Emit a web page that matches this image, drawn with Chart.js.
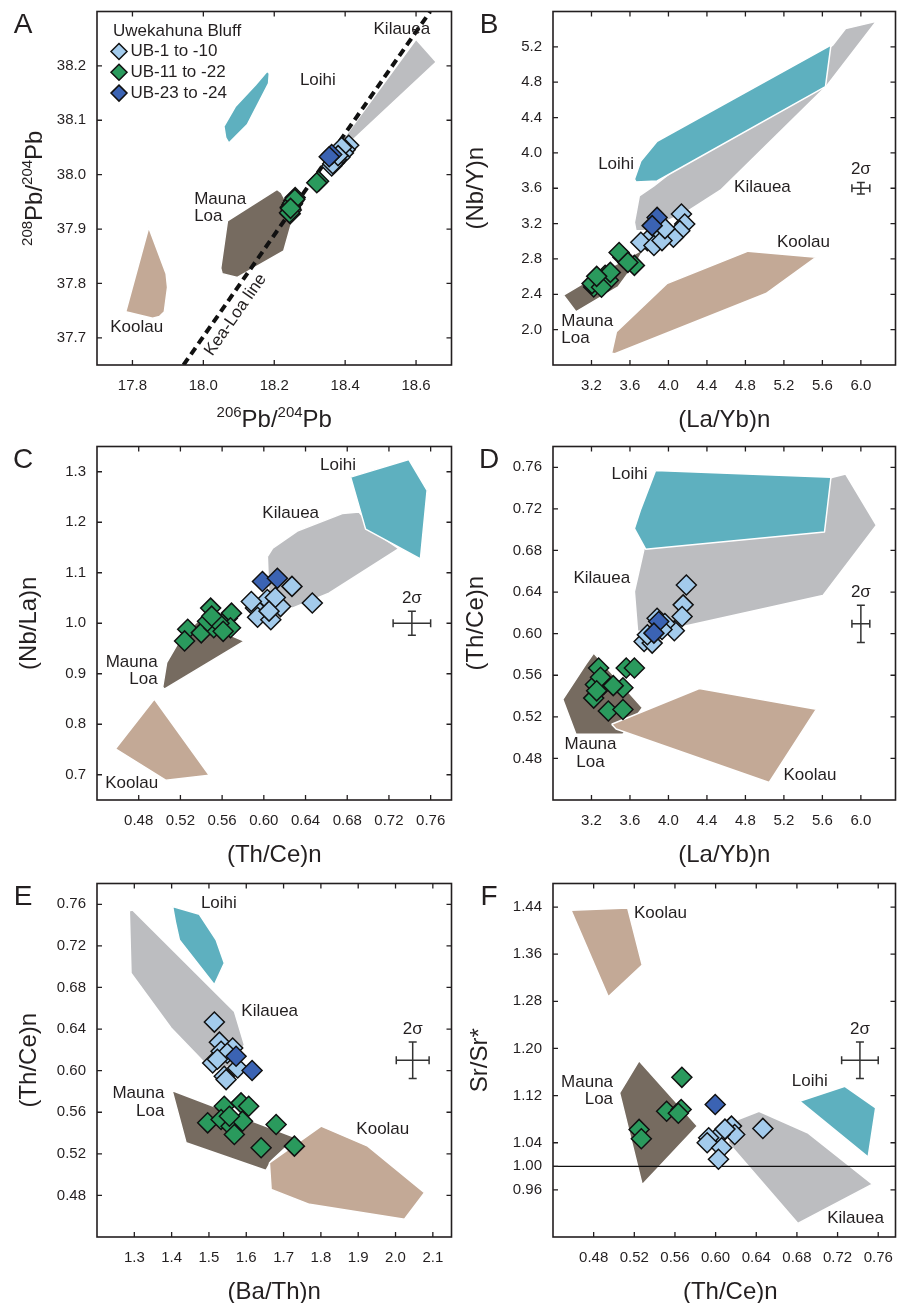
<!DOCTYPE html>
<html>
<head>
<meta charset="utf-8">
<script src="https://cdn.jsdelivr.net/npm/chart.js@4.4.1/dist/chart.umd.min.js"></script>
<style>
  body { margin: 0; background: #fff; width: 907px; height: 1303px; position: relative; overflow: hidden; }
  canvas { position: absolute; }
</style>
</head>
<body>
<canvas id="cA" width="463" height="440" style="left:0;top:0"></canvas>
<canvas id="cB" width="451" height="440" style="left:456px;top:0"></canvas>
<canvas id="cC" width="463" height="440" style="left:0;top:435px"></canvas>
<canvas id="cD" width="451" height="440" style="left:456px;top:435px"></canvas>
<canvas id="cE" width="463" height="431" style="left:0;top:872px"></canvas>
<canvas id="cF" width="451" height="431" style="left:456px;top:872px"></canvas>
<script>
"use strict";

// ---- data: [x, y] pairs ----

// A: 206Pb/204Pb vs 208Pb/204Pb
var A_XTICKS = [17.8, 18.0, 18.2, 18.4, 18.6];
var A_YTICKS = [37.7, 37.8, 37.9, 38.0, 38.1, 38.2];
var A_LB = [[18.41, 38.054], [18.40, 38.046], [18.395, 38.040], [18.385, 38.032], [18.37, 38.022],
            [18.362, 38.016], [18.375, 38.028], [18.39, 38.05], [18.365, 38.02], [18.38, 38.035]];
var A_GR = [[18.325, 37.988], [18.259, 37.958], [18.245, 37.940], [18.245, 37.928], [18.25, 37.945],
            [18.255, 37.952], [18.248, 37.935], [18.243, 37.93], [18.252, 37.948], [18.258, 37.955],
            [18.246, 37.938], [18.32, 37.985]];
var A_DB = [[18.362, 38.037], [18.355, 38.033]];
var A_KIL = [[18.600, 38.249], [18.657, 38.207], [18.414, 38.059], [18.390, 38.062]];
var A_LOI = [[18.180, 38.190], [18.186, 38.186], [18.184, 38.168], [18.124, 38.092], [18.072, 38.058],
             [18.063, 38.068], [18.058, 38.089], [18.091, 38.126], [18.147, 38.165]];
var A_ML = [[18.068, 37.915], [18.208, 37.973], [18.220, 37.967], [18.255, 37.925], [18.227, 37.860],
            [18.096, 37.811], [18.053, 37.818], [18.049, 37.828]];
var A_KOO = [[17.846, 37.903], [17.895, 37.818], [17.899, 37.793], [17.890, 37.748], [17.876, 37.739],
             [17.857, 37.736], [17.781, 37.748]];
var A_KEALOA = [[17.944, 37.65], [18.64, 38.30]];

// B: (La/Yb)n vs (Nb/Y)n
var B_XTICKS = [3.2, 3.6, 4.0, 4.4, 4.8, 5.2, 5.6, 6.0];
var B_YTICKS = [2.0, 2.4, 2.8, 3.2, 3.6, 4.0, 4.4, 4.8, 5.2];
var B_LB = [[4.135, 3.308], [4.169, 3.196], [4.118, 3.120], [4.051, 3.045], [3.899, 3.083],
            [3.781, 3.008], [3.713, 2.989], [3.849, 2.952], [3.933, 3.008], [3.964, 3.143]];
var B_GR = [[3.527, 2.820], [3.487, 2.873], [3.646, 2.727], [3.578, 2.761], [3.342, 2.615],
            [3.274, 2.558], [3.223, 2.483], [3.206, 2.521], [3.375, 2.558], [3.304, 2.480],
            [3.396, 2.648], [3.254, 2.603]];
var B_DB = [[3.882, 3.270], [3.831, 3.177]];
var B_KIL = [[3.697, 3.514], [3.849, 3.626], [5.706, 5.219], [5.841, 5.406], [6.162, 5.489],
             [5.638, 4.750], [4.541, 3.578], [4.153, 3.308], [3.747, 3.120], [3.662, 3.120], [3.646, 3.214]];
var B_LOI = [[3.882, 4.132], [5.689, 5.219], [5.632, 4.750], [3.882, 3.682], [3.662, 3.671],
             [3.646, 3.702], [3.713, 3.907]];
var B_ML = [[2.909, 2.390], [3.342, 2.671], [3.747, 2.915], [3.679, 2.783], [3.477, 2.483], [3.038, 2.202]];
var B_KOO = [[3.459, 1.977], [3.983, 2.521], [4.827, 2.888], [5.537, 2.820], [5.014, 2.409],
             [3.443, 1.727], [3.409, 1.734]];
var B_ERR = [6.0, 3.6, 0.093, 0.064];

// C: (Th/Ce)n vs (Nb/La)n
var C_XTICKS = [0.48, 0.52, 0.56, 0.60, 0.64, 0.68, 0.72, 0.76];
var C_YTICKS = [0.7, 0.8, 0.9, 1.0, 1.1, 1.2, 1.3];
var C_LB = [[0.627, 1.073], [0.6465, 1.040], [0.6034, 1.047], [0.616, 1.033], [0.611, 1.051],
            [0.592, 1.030], [0.594, 1.012], [0.6067, 1.007], [0.588, 1.043], [0.605, 1.024]];
var C_GR = [[0.549, 1.030], [0.565, 1.010], [0.569, 1.020], [0.527, 0.988], [0.524, 0.965],
            [0.540, 0.981], [0.552, 0.991], [0.568, 0.991], [0.546, 1.004], [0.557, 1.000],
            [0.550, 1.014], [0.561, 0.984]];
var C_DB = [[0.5987, 1.0827], [0.613, 1.089]];
var C_KIL = [[0.6034, 1.1319], [0.6082, 1.148], [0.6321, 1.1825], [0.6752, 1.2171], [0.6912, 1.2205],
             [0.7103, 1.1746], [0.7295, 1.148], [0.6625, 1.0596], [0.6274, 1.030], [0.605, 1.043]];
var C_LOI = [[0.6833, 1.2894], [0.7391, 1.3242], [0.7566, 1.2632], [0.7502, 1.1274], [0.6976, 1.1864]];
var C_ML = [[0.5365, 1.0039], [0.5812, 0.9646], [0.5046, 0.8695], [0.503, 0.874], [0.5068, 0.9219], [0.5206, 0.9711]];
var C_KOO = [[0.495, 0.850], [0.5477, 0.6988], [0.5062, 0.689], [0.4577, 0.7514]];
var C_ERR = [0.742, 1.0, 0.018, 0.0236];

// D: (La/Yb)n vs (Th/Ce)n
var D_XTICKS = B_XTICKS;
var D_YTICKS = [0.48, 0.52, 0.56, 0.60, 0.64, 0.68, 0.72, 0.76];
var D_LB = [[4.186, 0.6468], [4.153, 0.6277], [4.142, 0.6165], [4.061, 0.6028], [3.882, 0.6148],
            [3.747, 0.5925], [3.831, 0.5909], [3.781, 0.5989], [3.963, 0.6098], [3.933, 0.604]];
var D_GR = [[3.274, 0.567], [3.561, 0.567], [3.646, 0.567], [3.241, 0.551], [3.325, 0.551],
            [3.527, 0.548], [3.223, 0.538], [3.375, 0.5256], [3.527, 0.527], [3.294, 0.558],
            [3.254, 0.545], [3.426, 0.550]];
var D_DB = [[3.899, 0.6117], [3.849, 0.6005]];
var D_KIL = [[3.747, 0.6818], [5.706, 0.7504], [5.841, 0.7536], [6.162, 0.7042], [5.605, 0.6366],
             [4.153, 0.6069], [3.679, 0.6021], [3.646, 0.6404]];
var D_LOI = [[3.865, 0.7568], [5.689, 0.7504], [5.622, 0.6978], [3.763, 0.6812], [3.646, 0.701], [3.713, 0.720]];
var D_ML = [[3.223, 0.5813], [3.730, 0.5287], [3.527, 0.5032], [3.038, 0.5032], [2.902, 0.5367], [3.139, 0.5702]];
var D_KOO = [[3.409, 0.5128], [4.321, 0.5473], [5.537, 0.5272], [5.047, 0.4569], [3.456, 0.5083]];
var D_ERR = [6.0, 0.6095, 0.093, 0.0179];

// E: (Ba/Th)n vs (Th/Ce)n
var E_XTICKS = [1.3, 1.4, 1.5, 1.6, 1.7, 1.8, 1.9, 2.0, 2.1];
var E_YTICKS = D_YTICKS;
var E_LB = [[1.5145, 0.6467], [1.528, 0.6274], [1.5325, 0.6186], [1.510, 0.6074], [1.5636, 0.6218],
            [1.577, 0.6026], [1.541, 0.5946], [1.546, 0.5914], [1.549, 0.6167], [1.5226, 0.6109]];
var E_GR = [[1.541, 0.5658], [1.586, 0.5690], [1.6065, 0.5658], [1.4966, 0.5498], [1.5325, 0.553],
            [1.5593, 0.5466], [1.590, 0.5514], [1.568, 0.5386], [1.680, 0.5482], [1.6398, 0.5258],
            [1.729, 0.5274], [1.5548, 0.5562]];
var E_DB = [[1.5727, 0.6138], [1.6156, 0.6001]];
var E_KIL = [[1.2866, 0.7537], [1.2954, 0.7546], [1.5682, 0.657], [1.5949, 0.625], [1.5727, 0.6058],
             [1.51, 0.5994], [1.3984, 0.641], [1.2911, 0.6938]];
var E_LOI = [[1.4027, 0.7578], [1.4743, 0.7504], [1.5191, 0.7258], [1.5413, 0.7034], [1.5145, 0.6826],
             [1.4207, 0.7258], [1.4099, 0.7434]];
var E_ML = [[1.4011, 0.5809], [1.7336, 0.5354], [1.6666, 0.513], [1.653, 0.504], [1.4386, 0.5306]];
var E_KOO = [[1.662, 0.5114], [1.8007, 0.5466], [1.9256, 0.5274], [2.0777, 0.4826], [2.024, 0.457],
             [1.7693, 0.4714], [1.6666, 0.4858]];
var E_ERR = [2.046, 0.61, 0.044, 0.0176];

// F: (Th/Ce)n vs Sr/Sr*
var F_XTICKS = C_XTICKS;
var F_YTICKS = [0.96, 1.00, 1.04, 1.12, 1.20, 1.28, 1.36, 1.44];
var F_LB = [[0.6465, 1.0643], [0.6156, 1.0682], [0.6188, 1.054], [0.6044, 1.054], [0.5932, 1.0484],
            [0.5917, 1.040], [0.606, 1.0315], [0.6028, 1.0119], [0.6092, 1.0631]];
var F_GR = [[0.5668, 1.151], [0.5518, 1.0935], [0.5661, 1.0964], [0.5633, 1.090], [0.5247, 1.0626], [0.5269, 1.0467]];
var F_DB = [[0.5996, 1.1049]];
var F_KIL = [[0.6219, 1.0795], [0.6427, 1.0935], [0.6905, 1.0569], [0.7544, 0.9697], [0.681, 0.9031], [0.6123, 1.04]];
var F_LOI = [[0.6826, 1.1105], [0.7272, 1.1358], [0.7575, 1.0991], [0.7501, 1.0158]];
var F_ML = [[0.5247, 1.1792], [0.5821, 1.0682], [0.5278, 0.9685], [0.5055, 1.1245]];
var F_KOO = [[0.4577, 1.4344], [0.5135, 1.4383], [0.5278, 1.3415], [0.4944, 1.2879]];
var F_ERR = [0.742, 1.18, 0.018, 0.031];
var F_REF = [[0.40, 1.0], [0.80, 1.0]];

var SERIES = ['UB-1 to -10', 'UB-11 to -22', 'UB-23 to -24'];

// ---- styles ----
var FONT = 'Arial, "Liberation Sans", Helvetica, sans-serif';
var INK = '#231f20';
var COL = {
    lb: '#a3cbec', gr: '#2a9a5d', db: '#3b63b3',
    kil: '#bcbdc0', loi: '#5eb0bf', ml: '#766b60', koo: '#c3a996'
};

Chart.defaults.font.family = FONT;
Chart.defaults.color = INK;

function pts(a) {
    return a.map(function (p) { return { x: p[0], y: p[1] }; });
}

function polyDs(a, color) {
    return {
        type: 'line', data: pts(a.concat([a[0]])), backgroundColor: color,
        borderColor: '#ffffff', borderWidth: 1.5, borderJoinStyle: 'round',
        pointRadius: 0, pointHoverRadius: 0, fill: 'shape', tension: 0
    };
}

function markDs(a, color) {
    return {
        type: 'scatter', data: pts(a), pointStyle: 'rectRot', pointRadius: 10, pointHoverRadius: 10,
        backgroundColor: color, borderColor: '#111111', borderWidth: 1.5
    };
}

function lineDs(a, width, dash) {
    return {
        type: 'line', data: pts(a), borderColor: '#111111', borderWidth: width, borderDash: dash || [],
        pointRadius: 0, pointHoverRadius: 0, fill: false, tension: 0
    };
}

// text with superscript runs, centred on (x, y)
function drawRuns(ctx, runs, x, y, rot, size) {
    var sup = Math.round(size * 0.64);
    var fontOf = function (s) { return (s ? sup : size) + 'px ' + FONT; };
    var w = 0;
    runs.forEach(function (r) { ctx.font = fontOf(r[1]); w += ctx.measureText(r[0]).width; });
    ctx.save();
    ctx.translate(x, y);
    ctx.rotate(rot);
    ctx.textAlign = 'left';
    ctx.textBaseline = 'alphabetic';
    ctx.fillStyle = INK;
    var cx = -w / 2, base = size * 0.36;
    runs.forEach(function (r) {
        ctx.font = fontOf(r[1]);
        ctx.fillText(r[0], cx, r[1] ? base - size * 0.42 : base);
        cx += ctx.measureText(r[0]).width;
    });
    ctx.restore();
}

function diamond(ctx, x, y, r, color) {
    ctx.beginPath();
    ctx.moveTo(x, y - r); ctx.lineTo(x + r, y); ctx.lineTo(x, y + r); ctx.lineTo(x - r, y);
    ctx.closePath();
    ctx.fillStyle = color; ctx.fill();
    ctx.lineWidth = 1.5; ctx.strokeStyle = '#111111'; ctx.stroke();
}

function makeDecor(p) {
    return {
        id: 'decor' + p.letter,
        afterDatasetsDraw: function (chart) {
            var ctx = chart.ctx, a = chart.chartArea, sx = chart.scales.x, sy = chart.scales.y;
            ctx.save();

            // region labels
            ctx.fillStyle = INK;
            ctx.font = '17px ' + FONT;
            ctx.textBaseline = 'middle';
            p.labels.forEach(function (L) {
                var px = sx.getPixelForValue(L[1]), py = sy.getPixelForValue(L[2]);
                ctx.textAlign = L[3] || 'center';
                if (L[4]) {
                    ctx.save(); ctx.translate(px, py); ctx.rotate(L[4]);
                    ctx.fillText(L[0], 0, 0); ctx.restore();
                } else {
                    ctx.fillText(L[0], px, py);
                }
            });

            // 2 sigma cross
            if (p.err) {
                var e = p.err, c = 4;
                var cx = sx.getPixelForValue(e[0]), cy = sy.getPixelForValue(e[1]);
                var x0 = sx.getPixelForValue(e[0] - e[2]), x1 = sx.getPixelForValue(e[0] + e[2]);
                var y0 = sy.getPixelForValue(e[1] - e[3]), y1 = sy.getPixelForValue(e[1] + e[3]);
                ctx.strokeStyle = '#333333'; ctx.lineWidth = 1.5;
                ctx.beginPath();
                ctx.moveTo(x0, cy); ctx.lineTo(x1, cy);
                ctx.moveTo(cx, y0); ctx.lineTo(cx, y1);
                ctx.moveTo(x0, cy - c); ctx.lineTo(x0, cy + c);
                ctx.moveTo(x1, cy - c); ctx.lineTo(x1, cy + c);
                ctx.moveTo(cx - c, y0); ctx.lineTo(cx + c, y0);
                ctx.moveTo(cx - c, y1); ctx.lineTo(cx + c, y1);
                ctx.stroke();
                ctx.textAlign = 'center';
                ctx.fillText('2\u03c3', cx, y1 - 13);
            }

            // legend (panel A)
            if (p.legend) {
                ctx.textAlign = 'left';
                ctx.fillStyle = INK;
                ctx.fillText('Uwekahuna Bluff', a.left + 16, a.top + 20);
                [COL.lb, COL.gr, COL.db].forEach(function (col, i) {
                    var y = a.top + 40 + i * 20.8;
                    diamond(ctx, a.left + 22, y, 8, col);
                    ctx.fillStyle = INK;
                    ctx.fillText(SERIES[i], a.left + 33.5, y);
                });
            }

            // frame and inward ticks on all four sides
            ctx.strokeStyle = INK;
            ctx.lineWidth = 1.6;
            ctx.strokeRect(a.left, a.top, a.right - a.left, a.bottom - a.top);
            ctx.lineWidth = 1.3;
            ctx.beginPath();
            p.xTicks.forEach(function (v) {
                var x = sx.getPixelForValue(v);
                ctx.moveTo(x, a.bottom); ctx.lineTo(x, a.bottom - 5);
                ctx.moveTo(x, a.top); ctx.lineTo(x, a.top + 5);
            });
            p.yTicks.forEach(function (v) {
                var y = sy.getPixelForValue(v);
                ctx.moveTo(a.left, y); ctx.lineTo(a.left + 5, y);
                ctx.moveTo(a.right, y); ctx.lineTo(a.right - 5, y);
            });
            ctx.stroke();

            // axis titles
            drawRuns(ctx, p.xTitle, (a.left + a.right) / 2 + (p.xTitleShift || 0), a.bottom + 53, 0, 24);
            drawRuns(ctx, p.yTitle, p.yTitleX, (a.top + a.bottom) / 2, -Math.PI / 2, 24);

            // panel letter
            ctx.fillStyle = INK;
            ctx.font = '28px ' + FONT;
            ctx.textAlign = 'center';
            ctx.textBaseline = 'middle';
            ctx.fillText(p.letter, p.letterX, 25);
            ctx.restore();
        }
    };
}

function makePanel(p) {
    var canvas = document.getElementById(p.id);
    var xH = canvas.height - 10 - 355;
    var datasets = [
        markDs(p.db, COL.db),
        markDs(p.lb, COL.lb),
        markDs(p.gr, COL.gr)
    ];
    (p.lines || []).forEach(function (l) { datasets.push(l); });
    datasets.push(polyDs(p.loi, COL.loi));
    datasets.push(polyDs(p.koo, COL.koo));
    datasets.push(polyDs(p.kil, COL.kil));
    datasets.push(polyDs(p.ml, COL.ml));

    new Chart(canvas, {
        type: 'scatter',
        data: { datasets: datasets },
        options: {
            responsive: false,
            animation: false,
            events: [],
            layout: { padding: { top: 10, right: p.padRight, left: 0, bottom: 0 } },
            plugins: { legend: { display: false }, tooltip: { enabled: false } },
            scales: {
                x: {
                    type: 'linear', min: p.xMin, max: p.xMax,
                    grid: { display: false, drawTicks: false },
                    border: { display: false },
                    afterBuildTicks: function (s) { s.ticks = p.xTicks.map(function (v) { return { value: v }; }); },
                    afterFit: function (s) { s.height = xH; s.paddingLeft = 0; s.paddingRight = 0; },
                    ticks: {
                        autoSkip: false, maxRotation: 0, padding: 12, color: INK, font: { size: 15 },
                        callback: function (v) { return Number(v).toFixed(p.xDec); }
                    }
                },
                y: {
                    type: 'linear', min: p.yMin, max: p.yMax,
                    grid: { display: false, drawTicks: false },
                    border: { display: false },
                    afterBuildTicks: function (s) { s.ticks = p.yTicks.map(function (v) { return { value: v }; }); },
                    afterFit: function (s) { s.width = 97; s.paddingTop = 0; s.paddingBottom = 0; },
                    ticks: {
                        autoSkip: false, padding: 11, color: INK, font: { size: 15 },
                        callback: function (v) { return Number(v).toFixed(p.yDec); }
                    }
                }
            }
        },
        plugins: [makeDecor(p)]
    });
}

var keaLoaAngle = -55.1 * Math.PI / 180;

var PANELS = [
    {
        id: 'cA', letter: 'A', letterX: 23, padRight: 10, yTitleX: 33,
        xMin: 17.7, xMax: 18.7, yMin: 37.65, yMax: 38.30, xTicks: A_XTICKS, yTicks: A_YTICKS, xDec: 1, yDec: 1,
        lb: A_LB, gr: A_GR, db: A_DB, kil: A_KIL, loi: A_LOI, ml: A_ML, koo: A_KOO,
        lines: [lineDs(A_KEALOA, 4, [8, 5])],
        legend: true,
        xTitle: [['206', 1], ['Pb/', 0], ['204', 1], ['Pb', 0]],
        yTitle: [['208', 1], ['Pb/', 0], ['204', 1], ['Pb', 0]],
        labels: [['Kilauea', 18.56, 38.268], ['Loihi', 18.323, 38.173], ['Mauna', 17.974, 37.955, 'left'],
                 ['Loa', 17.974, 37.923, 'left'], ['Koolau', 17.812, 37.719],
                 ['Kea-Loa line', 18.091, 37.742, 'center', keaLoaAngle]]
    },
    {
        id: 'cB', letter: 'B', letterX: 33, padRight: 2, yTitleX: 18,
        xMin: 2.8, xMax: 6.36, yMin: 1.6, yMax: 5.6, xTicks: B_XTICKS, yTicks: B_YTICKS, xDec: 1, yDec: 1,
        lb: B_LB, gr: B_GR, db: B_DB, kil: B_KIL, loi: B_LOI, ml: B_ML, koo: B_KOO, err: B_ERR,
        xTitle: [['(La/Yb)n', 0]], yTitle: [['(Nb/Y)n', 0]],
        labels: [['Loihi', 3.456, 3.874], ['Kilauea', 4.977, 3.607], ['Koolau', 5.403, 2.989],
                 ['Mauna', 2.886, 2.090, 'left'], ['Loa', 2.886, 1.903, 'left']]
    },
    {
        id: 'cC', letter: 'C', letterX: 23, padRight: 10, yTitleX: 27,
        xMin: 0.44, xMax: 0.78, yMin: 0.65, yMax: 1.35, xTicks: C_XTICKS, yTicks: C_YTICKS, xDec: 2, yDec: 1,
        lb: C_LB, gr: C_GR, db: C_DB, kil: C_KIL, loi: C_LOI, ml: C_ML, koo: C_KOO, err: C_ERR,
        xTitle: [['(Th/Ce)n', 0]], yTitle: [['(Nb/La)n', 0]],
        labels: [['Loihi', 0.6711, 1.3124], ['Kilauea', 0.6258, 1.2171], ['Mauna', 0.4982, 0.9219, 'right'],
                 ['Loa', 0.4982, 0.8892, 'right'], ['Koolau', 0.4732, 0.6825]]
    },
    {
        id: 'cD', letter: 'D', letterX: 33, padRight: 2, yTitleX: 18,
        xMin: 2.8, xMax: 6.36, yMin: 0.44, yMax: 0.78, xTicks: D_XTICKS, yTicks: D_YTICKS, xDec: 1, yDec: 2,
        lb: D_LB, gr: D_GR, db: D_DB, kil: D_KIL, loi: D_LOI, ml: D_ML, koo: D_KOO, err: D_ERR,
        xTitle: [['(La/Yb)n', 0]], yTitle: [['(Th/Ce)n', 0]],
        labels: [['Loihi', 3.595, 0.7536], ['Kilauea', 3.307, 0.6531], ['Mauna', 3.19, 0.4937],
                 ['Loa', 3.19, 0.4761], ['Koolau', 5.47, 0.4633]]
    },
    {
        id: 'cE', letter: 'E', letterX: 23, padRight: 10, yTitleX: 27,
        xMin: 1.2, xMax: 2.15, yMin: 0.44, yMax: 0.78, xTicks: E_XTICKS, yTicks: E_YTICKS, xDec: 1, yDec: 2,
        lb: E_LB, gr: E_GR, db: E_DB, kil: E_KIL, loi: E_LOI, ml: E_ML, koo: E_KOO, err: E_ERR,
        xTitle: [['(Ba/Th)n', 0]], yTitle: [['(Th/Ce)n', 0]],
        labels: [['Loihi', 1.5266, 0.761], ['Kilauea', 1.6628, 0.657], ['Mauna', 1.3805, 0.5786, 'right'],
                 ['Loa', 1.3805, 0.561, 'right'], ['Koolau', 1.9659, 0.5434]]
    },
    {
        id: 'cF', letter: 'F', letterX: 33, padRight: 2, yTitleX: 22, xTitleShift: 6,
        xMin: 0.44, xMax: 0.777, yMin: 0.88, yMax: 1.48, xTicks: F_XTICKS, yTicks: F_YTICKS, xDec: 2, yDec: 2,
        lb: F_LB, gr: F_GR, db: F_DB, kil: F_KIL, loi: F_LOI, ml: F_ML, koo: F_KOO, err: F_ERR,
        lines: [lineDs(F_REF, 1.2)],
        xTitle: [['(Th/Ce)n', 0]], yTitle: [['Sr/Sr*', 0]],
        labels: [['Koolau', 0.5457, 1.4287], ['Mauna', 0.4991, 1.143, 'right'], ['Loa', 0.4991, 1.1133, 'right'],
                 ['Loihi', 0.6926, 1.1442], ['Kilauea', 0.7377, 0.9122]]
    }
];

PANELS.forEach(makePanel);
</script>
</body>
</html>
